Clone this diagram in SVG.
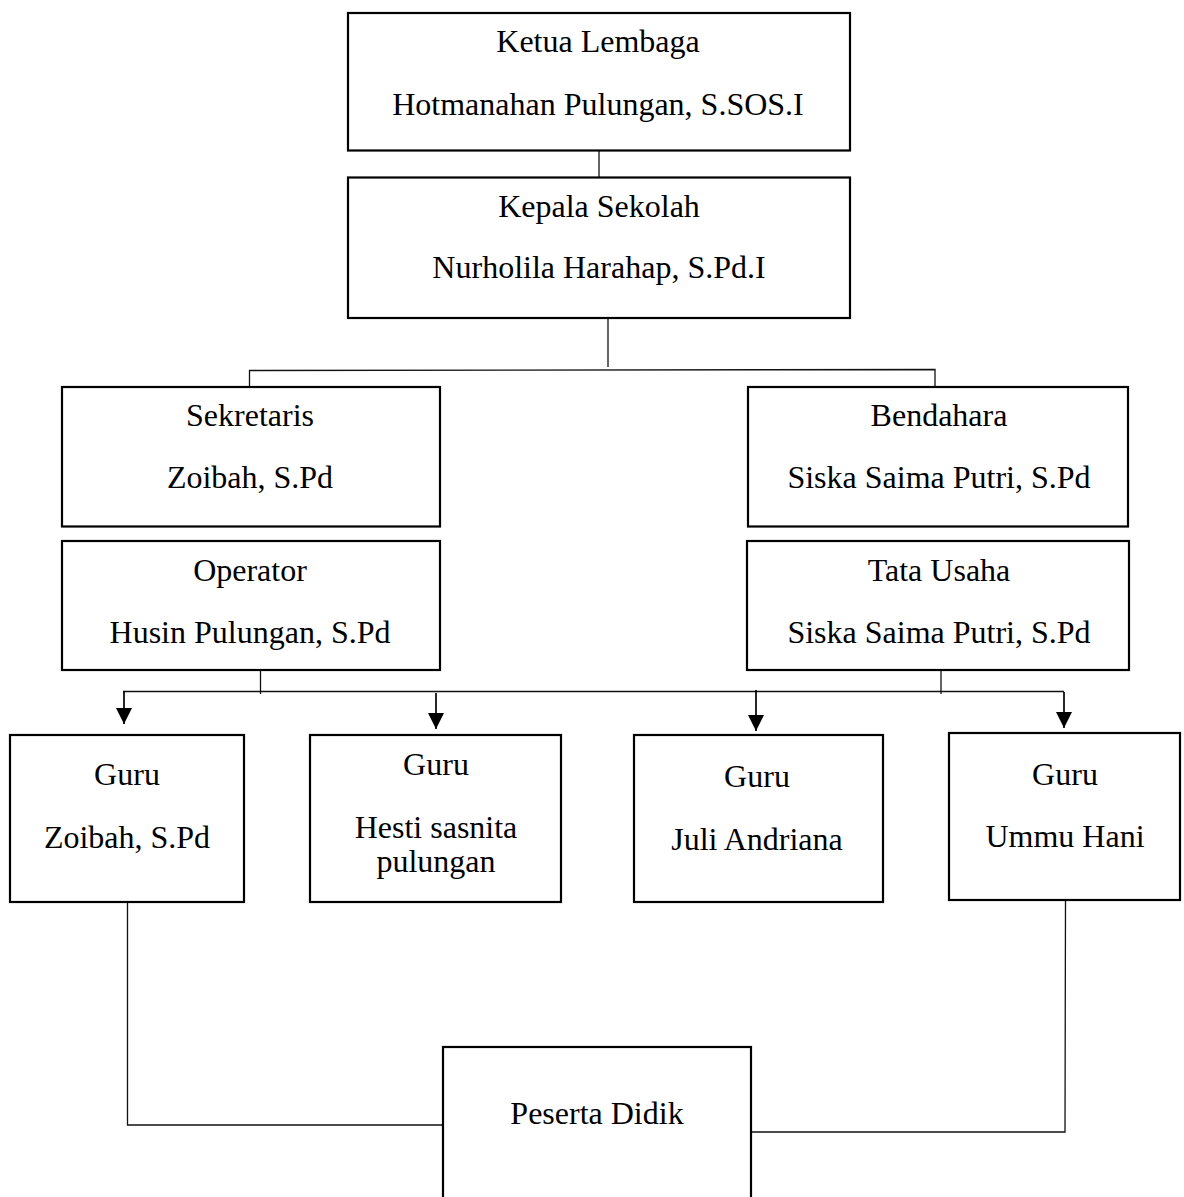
<svg xmlns="http://www.w3.org/2000/svg" width="1184" height="1197" viewBox="0 0 1184 1197">
<style>
.box{fill:#fff;stroke:#000;stroke-width:2.2}
.t{font-family:"Liberation Serif","Times New Roman",serif;font-size:32px;fill:#000;text-anchor:middle}
.c{fill:none;stroke:#111;stroke-width:1.3}
.a{fill:none;stroke:#000;stroke-width:1.7}
</style>
<defs>
<marker id="ah" viewBox="0 0 10 10" refX="10" refY="5" markerWidth="16" markerHeight="16" markerUnits="userSpaceOnUse" orient="auto">
<path d="M0,0 L10,5 L0,10 Z" fill="#000"/>
</marker>
</defs>
<rect width="1184" height="1197" fill="#fff"/>
<g id="connectors">
<line class="c" x1="599" y1="150" x2="599" y2="177"/>
<line class="c" x1="608" y1="318" x2="608" y2="367"/>
<polyline class="c" points="249.5,387 249.5,370.5 935,369.5 935,387"/>
<line class="c" x1="260.5" y1="670" x2="260.5" y2="694"/>
<line class="c" x1="941" y1="670" x2="941" y2="694"/>
<line class="c" x1="123" y1="691.5" x2="1064" y2="691.5"/>
<line class="a" x1="124" y1="691" x2="124" y2="724" marker-end="url(#ah)"/>
<line class="a" x1="436" y1="693" x2="436" y2="729" marker-end="url(#ah)"/>
<line class="a" x1="756" y1="690" x2="756" y2="731" marker-end="url(#ah)"/>
<line class="a" x1="1064" y1="692" x2="1064" y2="728" marker-end="url(#ah)"/>
<polyline class="c" points="127.5,903 127.5,1125 443,1125"/>
<polyline class="c" points="1065.5,901 1065,1132 751,1132"/>
</g>
<g id="ketua">
<rect class="box" x="348" y="13" width="502" height="137.5"/>
<text class="t" x="598" y="52">Ketua Lembaga</text>
<text class="t" x="598" y="115">Hotmanahan Pulungan, S.SOS.I</text>
</g>
<g id="kepala">
<rect class="box" x="348" y="177.5" width="502" height="140.5"/>
<text class="t" x="599" y="217">Kepala Sekolah</text>
<text class="t" x="599" y="278">Nurholila Harahap, S.Pd.I</text>
</g>
<g id="sekretaris">
<rect class="box" x="62" y="387" width="378" height="139.5"/>
<text class="t" x="250" y="426">Sekretaris</text>
<text class="t" x="250" y="488">Zoibah, S.Pd</text>
</g>
<g id="bendahara">
<rect class="box" x="748" y="387" width="380" height="139.5"/>
<text class="t" x="939" y="426">Bendahara</text>
<text class="t" x="939" y="488">Siska Saima Putri, S.Pd</text>
</g>
<g id="operator">
<rect class="box" x="62" y="541" width="378" height="129"/>
<text class="t" x="250" y="581">Operator</text>
<text class="t" x="250" y="643">Husin Pulungan, S.Pd</text>
</g>
<g id="tatausaha">
<rect class="box" x="747" y="541" width="382" height="129"/>
<text class="t" x="939" y="581">Tata Usaha</text>
<text class="t" x="939" y="643">Siska Saima Putri, S.Pd</text>
</g>
<g id="guru1">
<rect class="box" x="10" y="735" width="234" height="167"/>
<text class="t" x="127" y="785">Guru</text>
<text class="t" x="127" y="848">Zoibah, S.Pd</text>
</g>
<g id="guru2">
<rect class="box" x="310" y="735" width="251" height="167"/>
<text class="t" x="436" y="775">Guru</text>
<text class="t" x="436" y="838">Hesti sasnita</text>
<text class="t" x="436" y="872">pulungan</text>
</g>
<g id="guru3">
<rect class="box" x="634" y="735" width="249" height="167"/>
<text class="t" x="757" y="787">Guru</text>
<text class="t" x="757" y="850">Juli Andriana</text>
</g>
<g id="guru4">
<rect class="box" x="949" y="733" width="231" height="167"/>
<text class="t" x="1065" y="785">Guru</text>
<text class="t" x="1065" y="847">Ummu Hani</text>
</g>
<g id="peserta">
<rect class="box" x="443" y="1047" width="308" height="160"/>
<text class="t" x="597" y="1124">Peserta Didik</text>
</g>
</svg>
